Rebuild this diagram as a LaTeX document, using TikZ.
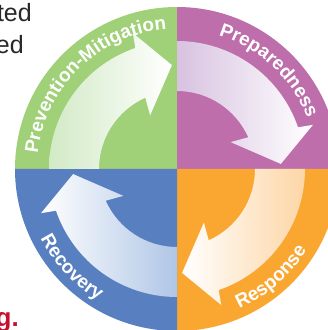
\documentclass[tikz,border=0pt]{standalone}
\usepackage{fontspec}
\setmainfont{Liberation Sans}
\newfontfamily\ringfont{Liberation Sans}
\usetikzlibrary{decorations.text}
\definecolor{qgreen}{RGB}{160,208,120}
\definecolor{qpurple}{RGB}{189,110,171}
\definecolor{qorange}{RGB}{250,167,50}
\definecolor{qblue}{RGB}{88,128,193}
\definecolor{lgreen}{RGB}{210,234,198}
\definecolor{lpurple}{RGB}{216,194,224}
\definecolor{lorange}{RGB}{253,214,166}
\definecolor{lblue}{RGB}{176,198,230}
\definecolor{darktext}{RGB}{40,40,40}
\definecolor{crimson}{RGB}{200,16,46}
\newcommand{\ringtxt}{\ringfont\bfseries\fontsize{19}{19}\selectfont}
\tikzset{
  quad/.style={fill=#1},
  ringlabel/.style={decorate, decoration={text along path, text align=center, text color=white, text={|\ringtxt|#1}}},
  frag/.style={font=\fontsize{25}{25}\selectfont, text=darktext, inner sep=0pt, anchor=base east}
}
\newcommand{\cyclearrow}[1]{%
  ( #1:128) arc[start angle=#1, end angle=#1-71, radius=128]
  -- (#1-72:143) -- (#1-87.2:104) -- (#1-63.4:60) -- (#1-66:78)
  arc[start angle=#1-66, end angle=#1, radius=78] -- cycle}
\begin{document}
\begin{tikzpicture}[x=1pt,y=1pt]
\clip (0,0) rectangle (328,330);
\fill[white] (0,0) rectangle (328,330);
\begin{scope}[shift={(177,161)}]
  \fill[quad=qgreen] (0,0) -- (180:162) arc[start angle=180,end angle=90,radius=162] -- cycle;
  \fill[quad=qpurple] (0,0) -- (90:162) arc[start angle=90,end angle=0,radius=162] -- cycle;
  \fill[quad=qorange] (0,0) -- (0:162) arc[start angle=0,end angle=-90,radius=162] -- cycle;
  \fill[quad=qblue] (0,0) -- (270:162) arc[start angle=270,end angle=180,radius=162] -- cycle;
  \shade[left color=lgreen, right color=white] \cyclearrow{180};
  \shade[left color=lpurple, right color=white] \cyclearrow{90};
  \shade[left color=white, right color=lorange] \cyclearrow{0};
  \shade[left color=white, right color=lblue] \cyclearrow{270};
  \path[ringlabel=Prevention-Mitigation] (179:140) arc[start angle=179, end angle=89, radius=140];
  \path[ringlabel=Preparedness] (92:140) arc[start angle=92, end angle=2, radius=140];
  \path[ringlabel=Response] (266:153) arc[start angle=266, end angle=356, radius=153];
  \path[ringlabel=Recovery] (178:153) arc[start angle=178, end angle=268, radius=153];
\end{scope}
\node[frag] (t1) at (32,308) {ted};
\node[frag] (t2) at (24,276) {ed};
\node[frag, font=\bfseries\fontsize{26}{26}\selectfont, text=crimson] (t3) at (19,3) {g.};
\end{tikzpicture}
\end{document}
